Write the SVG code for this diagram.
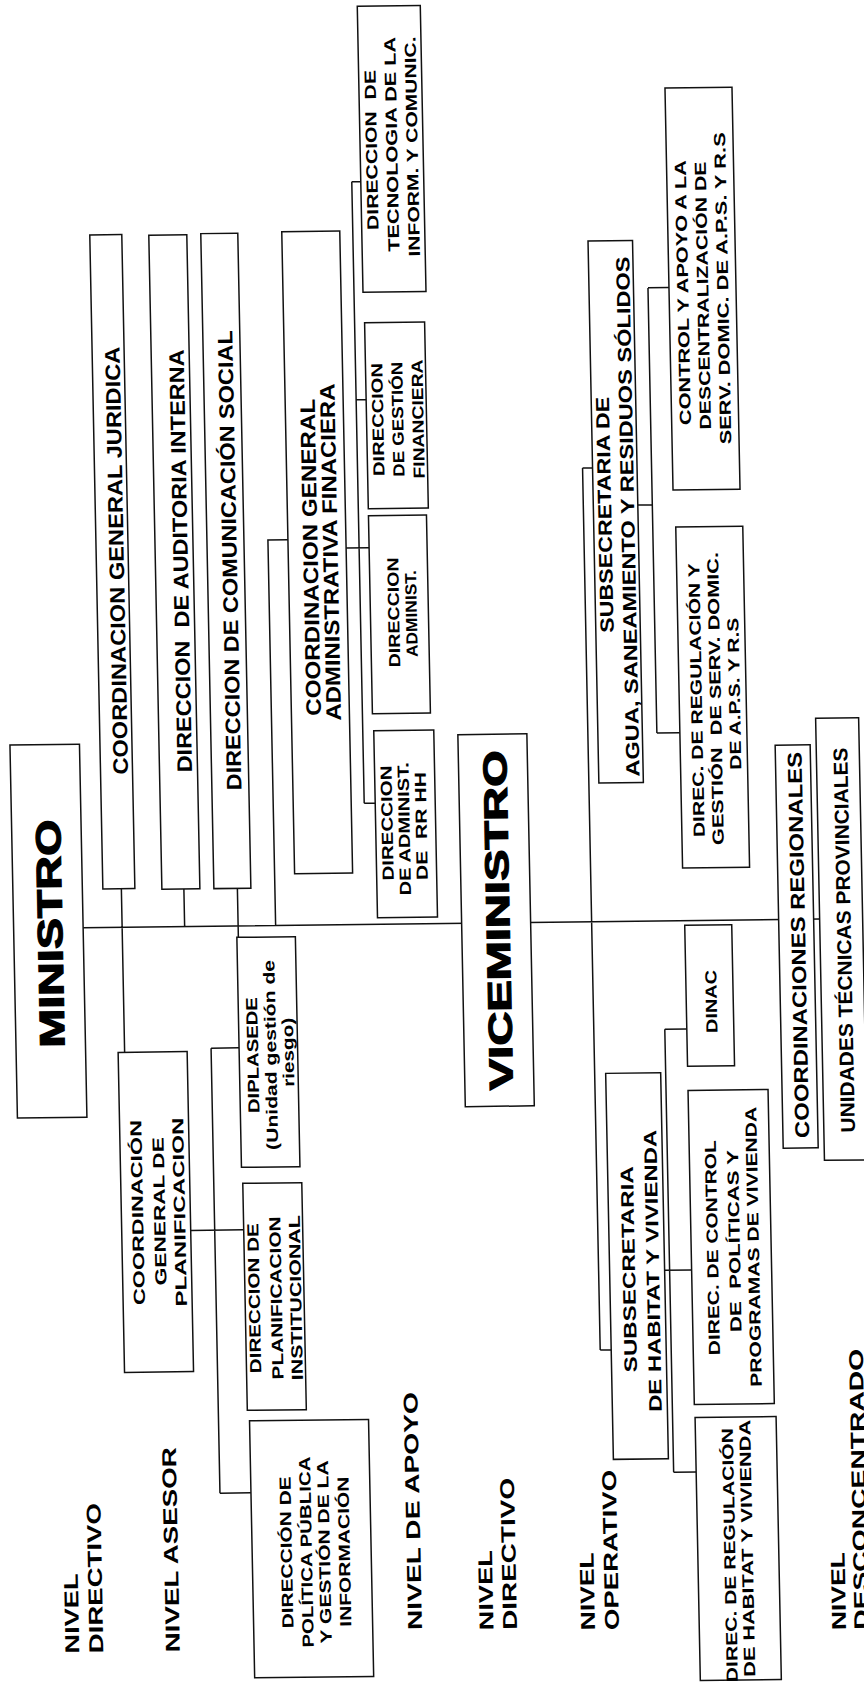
<svg xmlns="http://www.w3.org/2000/svg" width="864" height="1684" viewBox="0 0 864 1684">
<style>
.b{fill:#fff;stroke:#111;stroke-width:1.5}
.c{fill:none;stroke:#111;stroke-width:1.5}
text{font-family:"Liberation Sans",Arial,sans-serif;font-weight:bold;fill:#000;text-anchor:middle}
.s{text-anchor:start}
.h{stroke:#000;stroke-width:1.2}
</style>
<rect width="864" height="1684" fill="#fff"/>
<g transform="matrix(1 -0.012 0.02 1 -16.84 5.18)">
<g id="connectors">
<path class="c" d="M81.5 923.6H818 M120.5 885V1048.6 M183 886V923.6 M236.5 885.7V935 M274 923.6V538H294 M352 547H375 M365 181V802.5 M365 181H374 M365 399H375 M365 802.5H376 M590 470V1352 M590 470H600 M590 1352H601 M644.5 507.6H659 M659 290.6V735.7 M659 290.6H680 M659 735.7H682 M656 1273H683 M661 1032V1475 M661 1032H683 M661 1475H683.5 M183 1227.5H236 M207 1045.5V1490.5 M207 1045.5H235 M207 1490.5H238"/>
</g>
<g id="ministro"><rect class="b" x="12" y="740" width="69.5" height="373"/>
<text class="h" transform="translate(60.5 929) rotate(-90)" font-size="35" textLength="228" lengthAdjust="spacingAndGlyphs">MINISTRO</text></g>
<g id="viceministro"><rect class="b" x="460" y="735" width="69" height="372"/>
<text class="h" transform="translate(507.8 921) rotate(-90)" font-size="33" textLength="340" lengthAdjust="spacingAndGlyphs">VICEMINISTRO</text></g>
<g id="juridica"><rect class="b" x="102" y="231" width="32" height="654"/>
<text transform="translate(129.5 557) rotate(-90)" font-size="21" textLength="428" lengthAdjust="spacingAndGlyphs">COORDINACION GENERAL JURIDICA</text></g>
<g id="auditoria"><rect class="b" x="161" y="232" width="38" height="654"/>
<text xml:space="preserve" transform="translate(193.5 558) rotate(-90)" font-size="21" textLength="423" lengthAdjust="spacingAndGlyphs">DIRECCION  DE AUDITORIA INTERNA</text></g>
<g id="comunicacion"><rect class="b" x="213" y="231" width="37" height="655"/>
<text transform="translate(242.5 558) rotate(-90)" font-size="21" textLength="460" lengthAdjust="spacingAndGlyphs">DIRECCION DE COMUNICACIÓN SOCIAL</text></g>
<g id="coord-admin"><rect class="b" x="294" y="230" width="58" height="642"/>
<text transform="translate(323.5 556) rotate(-90)" font-size="21" textLength="317" lengthAdjust="spacingAndGlyphs">COORDINACION GENERAL</text>
<text transform="translate(343.5 551) rotate(-90)" font-size="21" textLength="337" lengthAdjust="spacingAndGlyphs">ADMINISTRATIVA FINACIERA</text></g>
<g id="rrhh"><rect class="b" x="376" y="730" width="60" height="187"/>
<text transform="translate(393 822.5) rotate(-90)" font-size="16" textLength="115" lengthAdjust="spacingAndGlyphs">DIRECCION</text>
<text transform="translate(410 828.5) rotate(-90)" font-size="16" textLength="133" lengthAdjust="spacingAndGlyphs">DE ADMINIST.</text>
<text xml:space="preserve" transform="translate(427 826) rotate(-90)" font-size="16" textLength="108" lengthAdjust="spacingAndGlyphs">DE  RR HH</text></g>
<g id="tecnologia"><rect class="b" x="374" y="5.5" width="63" height="286"/>
<text xml:space="preserve" transform="translate(390.8 149.5) rotate(-90)" font-size="16" textLength="160" lengthAdjust="spacingAndGlyphs">DIRECCION  DE</text>
<text transform="translate(411.2 144) rotate(-90)" font-size="16" textLength="215" lengthAdjust="spacingAndGlyphs">TECNOLOGIA DE LA</text>
<text transform="translate(431.6 146.5) rotate(-90)" font-size="16" textLength="220" lengthAdjust="spacingAndGlyphs">INFORM. Y COMUNIC.</text></g>
<g id="financiera"><rect class="b" x="375" y="322" width="60" height="186"/>
<text transform="translate(391.8 419) rotate(-90)" font-size="16" textLength="113" lengthAdjust="spacingAndGlyphs">DIRECCION</text>
<text transform="translate(411.8 419) rotate(-90)" font-size="16" textLength="115" lengthAdjust="spacingAndGlyphs">DE GESTIÓN</text>
<text transform="translate(432 419) rotate(-90)" font-size="16" textLength="119" lengthAdjust="spacingAndGlyphs">FINANCIERA</text></g>
<g id="administ"><rect class="b" x="375" y="515" width="58" height="198"/>
<text transform="translate(403.8 612) rotate(-90)" font-size="16" textLength="110" lengthAdjust="spacingAndGlyphs">DIRECCION</text>
<text transform="translate(421.4 613.5) rotate(-90)" font-size="16" textLength="87" lengthAdjust="spacingAndGlyphs">ADMINIST.</text></g>
<g id="planificacion"><rect class="b" x="114" y="1048.6" width="69" height="320"/>
<text transform="translate(135.7 1209) rotate(-90)" font-size="16" textLength="185" lengthAdjust="spacingAndGlyphs">COORDINACIÓN</text>
<text transform="translate(157.7 1208) rotate(-90)" font-size="16" textLength="148" lengthAdjust="spacingAndGlyphs">GENERAL DE</text>
<text transform="translate(177.7 1209) rotate(-90)" font-size="16" textLength="189" lengthAdjust="spacingAndGlyphs">PLANIFICACION</text></g>
<g id="diplasede"><rect class="b" x="235" y="935" width="58.5" height="230"/>
<text transform="translate(254 1053) rotate(-90)" font-size="16" textLength="116" lengthAdjust="spacingAndGlyphs">DIPLASEDE</text>
<text transform="translate(272 1053) rotate(-90)" font-size="16" textLength="190" lengthAdjust="spacingAndGlyphs">(Unidad gestión de</text>
<text transform="translate(289.5 1050.5) rotate(-90)" font-size="16" textLength="69" lengthAdjust="spacingAndGlyphs">riesgo)</text></g>
<g id="plan-institucional"><rect class="b" x="236" y="1181" width="59" height="227"/>
<text transform="translate(250.7 1296) rotate(-90)" font-size="16" textLength="150" lengthAdjust="spacingAndGlyphs">DIRECCION DE</text>
<text transform="translate(272.7 1296) rotate(-90)" font-size="16" textLength="163" lengthAdjust="spacingAndGlyphs">PLANIFICACION</text>
<text transform="translate(292.2 1296) rotate(-90)" font-size="16" textLength="165" lengthAdjust="spacingAndGlyphs">INSTITUCIONAL</text></g>
<g id="politica-publica"><rect class="b" x="238" y="1418.5" width="119" height="257"/>
<text transform="translate(277.7 1550.5) rotate(-90)" font-size="16" textLength="152" lengthAdjust="spacingAndGlyphs">DIRECCIÓN DE</text>
<text transform="translate(297.7 1550.5) rotate(-90)" font-size="16" textLength="191" lengthAdjust="spacingAndGlyphs">POLÍTICA PÚBLICA</text>
<text transform="translate(315.7 1550.5) rotate(-90)" font-size="16" textLength="183" lengthAdjust="spacingAndGlyphs">Y GESTIÓN DE LA</text>
<text transform="translate(335.7 1550.5) rotate(-90)" font-size="16" textLength="150" lengthAdjust="spacingAndGlyphs">INFORMACIÓN</text></g>
<g id="subsec-agua"><rect class="b" x="600" y="243" width="44.5" height="542"/>
<text transform="translate(617.8 517) rotate(-90)" font-size="19" textLength="236" lengthAdjust="spacingAndGlyphs">SUBSECRETARIA DE</text>
<text transform="translate(640.8 519) rotate(-90)" font-size="19" textLength="520" lengthAdjust="spacingAndGlyphs">AGUA, SANEAMIENTO Y RESIDUOS SÓLIDOS</text></g>
<g id="control-apoyo"><rect class="b" x="680" y="91" width="67" height="402"/>
<text transform="translate(699.2 295.7) rotate(-90)" font-size="16" textLength="265" lengthAdjust="spacingAndGlyphs">CONTROL Y APOYO A LA</text>
<text transform="translate(719.2 299) rotate(-90)" font-size="16" textLength="268" lengthAdjust="spacingAndGlyphs">DESCENTRALIZACIÓN DE</text>
<text transform="translate(739.2 292) rotate(-90)" font-size="16" textLength="312" lengthAdjust="spacingAndGlyphs">SERV. DOMIC. DE A.P.S. Y R.S</text></g>
<g id="regulacion-aps"><rect class="b" x="682" y="530" width="67" height="341"/>
<text transform="translate(704.7 703.4) rotate(-90)" font-size="16" textLength="274" lengthAdjust="spacingAndGlyphs">DIREC. DE REGULACIÓN Y</text>
<text xml:space="preserve" transform="translate(723.7 702) rotate(-90)" font-size="16" textLength="293" lengthAdjust="spacingAndGlyphs">GESTIÓN  DE SERV. DOMIC.</text>
<text transform="translate(742.7 697.4) rotate(-90)" font-size="16" textLength="152" lengthAdjust="spacingAndGlyphs">DE A.P.S. Y R.S</text></g>
<g id="subsec-habitat"><rect class="b" x="601" y="1075.4" width="55" height="386"/>
<text transform="translate(626.4 1271.5) rotate(-90)" font-size="18" textLength="206" lengthAdjust="spacingAndGlyphs">SUBSECRETARIA</text>
<text transform="translate(650.4 1273.5) rotate(-90)" font-size="18" textLength="282" lengthAdjust="spacingAndGlyphs">DE HABITAT Y VIVIENDA</text></g>
<g id="dinac"><rect class="b" x="683" y="928.3" width="47" height="141"/>
<text transform="translate(713.5 1004.8) rotate(-90)" font-size="16" textLength="63" lengthAdjust="spacingAndGlyphs">DINAC</text></g>
<g id="control-vivienda"><rect class="b" x="683" y="1093.5" width="80" height="314"/>
<text transform="translate(709.7 1251) rotate(-90)" font-size="16" textLength="215" lengthAdjust="spacingAndGlyphs">DIREC. DE CONTROL</text>
<text xml:space="preserve" transform="translate(731.7 1244.6) rotate(-90)" font-size="16" textLength="182" lengthAdjust="spacingAndGlyphs">DE  POLÍTICAS Y</text>
<text transform="translate(750.7 1250.6) rotate(-90)" font-size="16" textLength="280" lengthAdjust="spacingAndGlyphs">PROGRAMAS DE VIVIENDA</text></g>
<g id="regulacion-habitat"><rect class="b" x="683.5" y="1420.6" width="81" height="263"/>
<text transform="translate(721 1558.6) rotate(-90)" font-size="16" textLength="254" lengthAdjust="spacingAndGlyphs">DIREC. DE REGULACIÓN</text>
<text transform="translate(738.5 1552) rotate(-90)" font-size="16" textLength="257" lengthAdjust="spacingAndGlyphs">DE HABITAT Y VIVIENDA</text></g>
<g id="coord-regionales"><rect class="b" x="777" y="749.3" width="35" height="403"/>
<text transform="translate(803.2 949.4) rotate(-90)" font-size="20" textLength="386" lengthAdjust="spacingAndGlyphs">COORDINACIONES REGIONALES</text></g>
<g id="unidades-tecnicas"><rect class="b" x="818" y="723" width="43" height="442"/>
<text transform="translate(849 945) rotate(-90)" font-size="20" textLength="385" lengthAdjust="spacingAndGlyphs">UNIDADES TÉCNICAS PROVINCIALES</text></g>
<g id="levels">
<text class="s" transform="translate(63.2 1649) rotate(-90)" font-size="20" textLength="80" lengthAdjust="spacingAndGlyphs">NIVEL</text>
<text class="s" transform="translate(87.2 1649) rotate(-90)" font-size="20" textLength="150" lengthAdjust="spacingAndGlyphs">DIRECTIVO</text>
<text class="s" transform="translate(163.7 1649) rotate(-90)" font-size="20" textLength="205" lengthAdjust="spacingAndGlyphs">NIVEL ASESOR</text>
<text class="s" transform="translate(406.2 1629.7) rotate(-90)" font-size="20" textLength="238" lengthAdjust="spacingAndGlyphs">NIVEL DE APOYO</text>
<text class="s" transform="translate(477.7 1630.7) rotate(-90)" font-size="20" textLength="80" lengthAdjust="spacingAndGlyphs">NIVEL</text>
<text class="s" transform="translate(501.2 1630.7) rotate(-90)" font-size="20" textLength="152" lengthAdjust="spacingAndGlyphs">DIRECTIVO</text>
<text class="s" transform="translate(579.2 1632) rotate(-90)" font-size="20" textLength="78" lengthAdjust="spacingAndGlyphs">NIVEL</text>
<text class="s" transform="translate(603.2 1632) rotate(-90)" font-size="20" textLength="160" lengthAdjust="spacingAndGlyphs">OPERATIVO</text>
<text class="s" transform="translate(830.2 1634.8) rotate(-90)" font-size="20" textLength="78" lengthAdjust="spacingAndGlyphs">NIVEL</text>
<text class="s" transform="translate(852.5 1634.8) rotate(-90)" font-size="20" textLength="281" lengthAdjust="spacingAndGlyphs">DESCONCENTRADO</text>
</g>
</g>
</svg>
